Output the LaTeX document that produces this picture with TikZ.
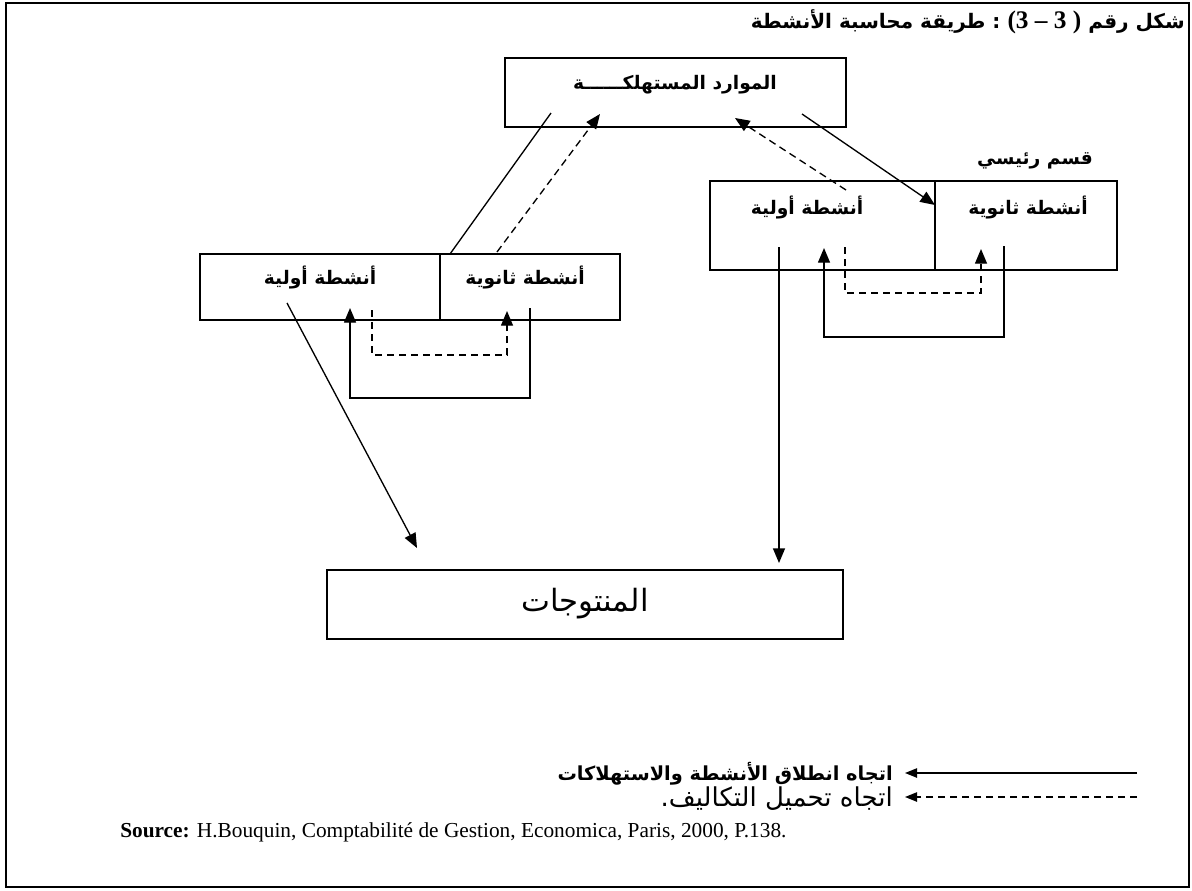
\documentclass[tikz,border=0pt]{standalone}
\usepackage{fontspec}
\usetikzlibrary{arrows.meta}
\setmainfont{Liberation Serif}
\newfontfamily\arabicfont[Script=Arabic]{DejaVu Sans}
\TeXXeTstate=1

\begin{document}
\begin{tikzpicture}[x=0.75pt,y=-0.75pt,
  box/.style={draw,line width=1.3pt,inner sep=0pt,outer sep=0pt,anchor=north west},
  lbl/.style={font=\arabicfont\bfseries\fontsize{14}{16}\selectfont,inner sep=0pt},
  flow/.style={line width=1pt},
  cost/.style={line width=1pt,dash pattern=on 5.5pt off 3.5pt},
  tip/.style={-{Triangle[length=11pt,width=9pt]}},
  smalltip/.style={-{Triangle[length=9pt,width=7pt]}}
]
\useasboundingbox (0,0) rectangle (1192,890);
\draw[line width=1.6pt] (6,3) rectangle (1189,887);

% title, pieces laid out from left to right
\node[anchor=east,inner sep=0pt] (title) at (1185,22)
  {\bfseries
   {\arabicfont\fontsize{15}{18}\selectfont\beginR طريقة محاسبة الأنشطة\endR}%
   {\arabicfont\fontsize{15}{18}\selectfont\ :\ }%
   {\fontsize{19}{20}\selectfont(3 – 3 )}%
   {\arabicfont\fontsize{15}{18}\selectfont\ \beginR شكل رقم\endR}};

% boxes
\node[box,minimum width=341*0.75pt,minimum height=69*0.75pt] (res) at (505,58) {};
\node[box,minimum width=225*0.75pt,minimum height=89*0.75pt] (rP) at (710,181) {};
\node[box,minimum width=182*0.75pt,minimum height=89*0.75pt] (rS) at (935,181) {};
\node[box,minimum width=240*0.75pt,minimum height=66*0.75pt] (lP) at (200,254) {};
\node[box,minimum width=180*0.75pt,minimum height=66*0.75pt] (lS) at (440,254) {};
\node[box,minimum width=516*0.75pt,minimum height=69*0.75pt] (prod) at (327,570) {};

% box labels
\node[lbl] (resT) at (675,85) {\beginR الموارد المستهلكــــــة\endR};
\node[lbl] (rPT) at (807,208) {\beginR أنشطة  أولية\endR};
\node[lbl] (rST) at (1028,208) {\beginR أنشطة  ثانوية\endR};
\node[lbl] (mainT) at (1035,161) {\beginR قسم  رئيسي\endR};
\node[lbl] (lPT) at (320,278) {\beginR أنشطة أولية\endR};
\node[lbl] (lST) at (525,278) {\beginR أنشطة ثانوية\endR};
\node[inner sep=0pt,font=\arabicfont\fontsize{23}{26}\selectfont] (prodT) at (585,604) {\beginR المنتوجات\endR};

% connector end points
\coordinate (a1) at (450,254);  \coordinate (a2) at (551,113);
\coordinate (b1) at (497,252);  \coordinate (b2) at (600,114);
\coordinate (c1) at (846,190);  \coordinate (c2) at (735,118);
\coordinate (d1) at (802,114);  \coordinate (d2) at (935,205);
\coordinate (e1) at (1004,246); \coordinate (e2) at (824,248);
\coordinate (f1) at (845,247);  \coordinate (f2) at (981,249);
\coordinate (g1) at (779,247);  \coordinate (g2) at (779,563);
\coordinate (h1) at (530,308);  \coordinate (h2) at (350,308);
\coordinate (k1) at (372,310);  \coordinate (k2) at (507,311);
\coordinate (m1) at (287,303);  \coordinate (m2) at (417,548);

% consumption of resources
\draw[flow] (a1) -- (a2);
\draw[flow,tip] (d1) -- (d2);
\draw[flow,tip] (g1) -- (g2);
\draw[flow,tip] (m1) -- (m2);
\draw[flow,tip] (e1) -- (1004,337) -- (824,337) -- (e2);
\draw[flow,tip] (h1) -- (530,398) -- (350,398) -- (h2);

% cost assignment
\draw[cost,tip] (b1) -- (b2);
\draw[cost,tip] (c1) -- (c2);
\draw[cost,tip] (f1) -- (845,293) -- (981,293) -- (f2);
\draw[cost,tip] (k1) -- (372,355) -- (507,355) -- (k2);

% legend
\coordinate (L1a) at (1137,773); \coordinate (L1b) at (905,773);
\coordinate (L2a) at (1137,797); \coordinate (L2b) at (905,797);
\draw[flow,smalltip] (L1a) -- (L1b);
\draw[cost,smalltip] (L2a) -- (L2b);
\node[anchor=east,inner sep=0pt,font=\arabicfont\bfseries\fontsize{14.5}{16}\selectfont] (leg1) at (893,774)
  {\beginR اتجاه انطلاق الأنشطة والاستهلاكات\endR};
\node[anchor=east,inner sep=0pt,font=\arabicfont\fontsize{19.5}{22}\selectfont] (leg2) at (893,799)
  {\beginR اتجاه تحميل التكاليف.\endR};

% source
\node[anchor=west,inner sep=0pt,font=\fontsize{16}{18}\selectfont] (src) at (120,832)
  {\textbf{Source:} H.Bouquin, Comptabilité de Gestion, Economica, Paris, 2000, P.138.};
\end{tikzpicture}
\end{document}
